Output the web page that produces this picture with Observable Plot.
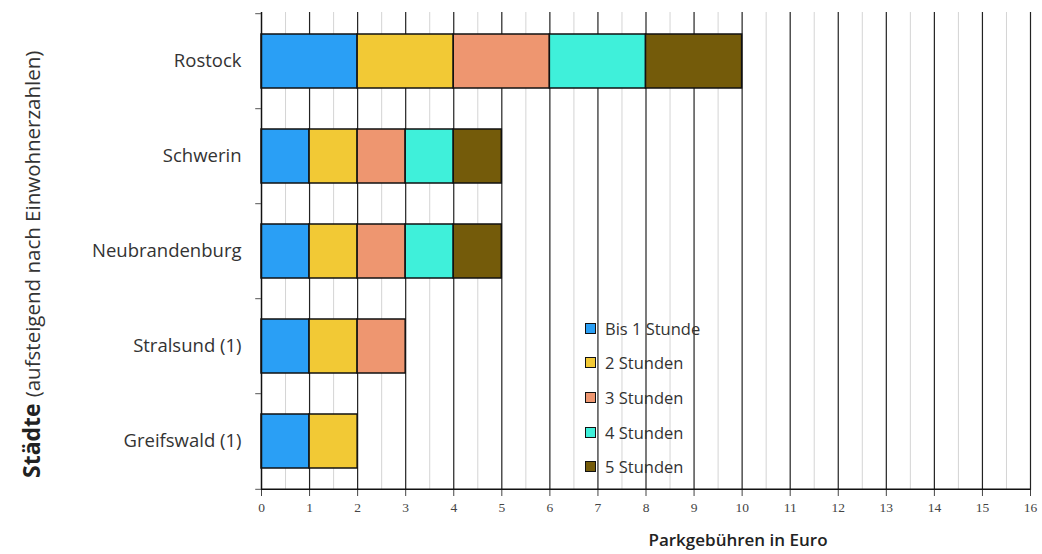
<!DOCTYPE html>
<html><head><meta charset="utf-8">
<script src="https://cdn.jsdelivr.net/npm/d3@7"></script>
<script src="https://cdn.jsdelivr.net/npm/@observablehq/plot@0.6"></script>
<style>
body{margin:0;background:#fff;font-family:"Open Sans",sans-serif;}
#wrap{position:relative;width:1042px;height:554px;}
#legend{position:absolute;left:585px;top:311px;font-size:16.5px;color:#333;}
#legend div{height:34.6px;display:flex;align-items:center;}
#legend span.sw{display:inline-block;width:9px;height:9px;border:1.5px solid #111;margin-right:9px;}
</style></head>
<body><div id="wrap"><div id="legend"></div></div>
<script>
const cities = ["Rostock","Schwerin","Neubrandenburg","Stralsund (1)","Greifswald (1)"];
const durations = ["Bis 1 Stunde","2 Stunden","3 Stunden","4 Stunden","5 Stunden"];
const colors = ["#2a9ff5","#f2c935","#ee9670","#3ff0da","#745b0a"];
// increment per duration step, per city
const increments = {
  "Rostock": [2,2,2,2,2],
  "Schwerin": [1,1,1,1,1],
  "Neubrandenburg": [1,1,1,1,1],
  "Stralsund (1)": [1,1,1],
  "Greifswald (1)": [1,1]
};
const xTicks = d3.range(0,17);
const xHalf = d3.range(0.5,16,1);

const rows = [];
for (const c of cities) increments[c].forEach((v,i)=>rows.push({city:c,dur:durations[i],v}));

const W=1042,H=554,mt=12,mb=64,ml=261,mr=12;
const step=(H-mt-mb)/cities.length;

const plot = Plot.plot({
  width:W,height:H,marginTop:mt,marginBottom:mb,marginLeft:ml,marginRight:mr,
  style:{fontFamily:"Open Sans, sans-serif",background:"#fff"},
  x:{domain:[0,16],ticks:xTicks,tickFormat:d=>d,label:null},
  y:{domain:cities,paddingInner:0.435,paddingOuter:0.2175,label:null},
  color:{domain:durations,range:colors},
  marks:[
    Plot.ruleX(xHalf,{stroke:"#d4d4d4",strokeWidth:1}),
    Plot.ruleX(xTicks.slice(1),{stroke:"#222",strokeWidth:1.2}),
    Plot.barX(rows,Plot.stackX({y:"city",x:"v",fill:"dur",stroke:"#111",strokeWidth:1.5,order:null})),
    Plot.ruleX([0],{stroke:"#111",strokeWidth:1.5}),
    Plot.ruleY([cities[cities.length-1]],{x1:0,x2:16,dy:step/2,stroke:"#111",strokeWidth:1.5}),
    Plot.ruleY(cities,{x1:-0.12,x2:0,dy:-step/2,stroke:"#555"}),
    Plot.ruleY([cities[cities.length-1]],{x1:-0.12,x2:0,dy:step/2,stroke:"#555"}),
    Plot.axisX({ticks:xTicks,tickSize:6,tickPadding:6,fontFamily:"Liberation Serif, serif",fontSize:13.5,color:"#444",label:null}),
    Plot.axisY({tickSize:0,tickPadding:20,fontSize:18.5,color:"#333",label:null})
  ]
});
const wrap=document.getElementById("wrap");
wrap.prepend(plot);
const svg=d3.select(plot);
svg.append("text").attr("x",738).attr("y",546).attr("text-anchor","middle")
  .attr("font-size",17).attr("fill","#222").attr("font-weight",600).text("Parkgebühren in Euro");
const yl=svg.append("text").attr("text-anchor","start").attr("transform","translate(40,478) rotate(-90)").attr("fill","#222");
yl.append("tspan").attr("font-size",23).attr("font-weight",700).text("Städte");
yl.append("tspan").attr("font-size",20.5).attr("dx",6).attr("fill","#333").text("(aufsteigend nach Einwohnerzahlen)");

const lg=document.getElementById("legend");
durations.forEach((d,i)=>{
  const r=document.createElement("div");
  r.innerHTML=`<span class="sw" style="background:${colors[i]}"></span>${d}`;
  lg.appendChild(r);
});
</script></body></html>
